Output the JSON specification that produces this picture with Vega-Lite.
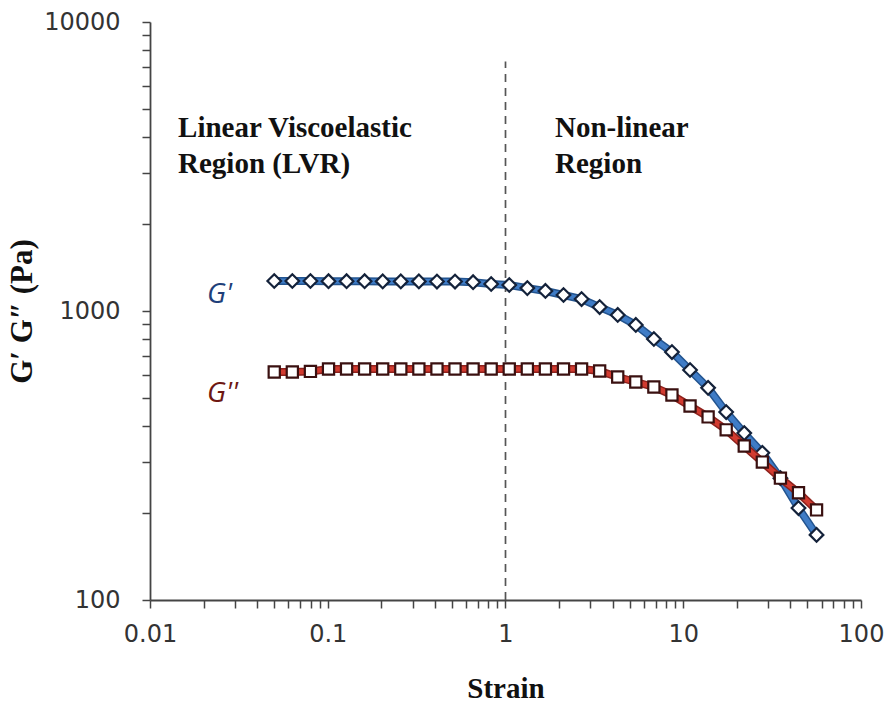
{
  "$schema": "https://vega.github.io/schema/vega-lite/v6.json",
  "width": 711,
  "height": 578,
  "autosize": {"type": "none"},
  "padding": {"left": 150, "top": 22, "right": 28, "bottom": 102},
  "background": "white",
  "config": {"view": {"stroke": null}},
  "datasets": {
    "moduli": [
      {"series": "G'", "strain": 0.05, "modulus": 1270},
      {"series": "G'", "strain": 0.0632, "modulus": 1270},
      {"series": "G'", "strain": 0.0799, "modulus": 1270},
      {"series": "G'", "strain": 0.101, "modulus": 1268},
      {"series": "G'", "strain": 0.1276, "modulus": 1268},
      {"series": "G'", "strain": 0.1612, "modulus": 1268},
      {"series": "G'", "strain": 0.2038, "modulus": 1266},
      {"series": "G'", "strain": 0.2576, "modulus": 1266},
      {"series": "G'", "strain": 0.3256, "modulus": 1266},
      {"series": "G'", "strain": 0.4115, "modulus": 1264},
      {"series": "G'", "strain": 0.52, "modulus": 1264},
      {"series": "G'", "strain": 0.6572, "modulus": 1258},
      {"series": "G'", "strain": 0.8306, "modulus": 1240},
      {"series": "G'", "strain": 1.05, "modulus": 1230},
      {"series": "G'", "strain": 1.327, "modulus": 1200},
      {"series": "G'", "strain": 1.677, "modulus": 1173},
      {"series": "G'", "strain": 2.12, "modulus": 1136},
      {"series": "G'", "strain": 2.679, "modulus": 1100},
      {"series": "G'", "strain": 3.386, "modulus": 1032},
      {"series": "G'", "strain": 4.279, "modulus": 969},
      {"series": "G'", "strain": 5.408, "modulus": 895},
      {"series": "G'", "strain": 6.834, "modulus": 800},
      {"series": "G'", "strain": 8.638, "modulus": 721},
      {"series": "G'", "strain": 10.92, "modulus": 625},
      {"series": "G'", "strain": 13.8, "modulus": 542},
      {"series": "G'", "strain": 17.44, "modulus": 447},
      {"series": "G'", "strain": 22.04, "modulus": 378},
      {"series": "G'", "strain": 27.86, "modulus": 323},
      {"series": "G'", "strain": 35.21, "modulus": 264},
      {"series": "G'", "strain": 44.5, "modulus": 208},
      {"series": "G'", "strain": 56.23, "modulus": 168},
      {"series": "G''", "strain": 0.05, "modulus": 615},
      {"series": "G''", "strain": 0.0632, "modulus": 615},
      {"series": "G''", "strain": 0.0799, "modulus": 618},
      {"series": "G''", "strain": 0.101, "modulus": 630},
      {"series": "G''", "strain": 0.1276, "modulus": 630},
      {"series": "G''", "strain": 0.1612, "modulus": 630},
      {"series": "G''", "strain": 0.2038, "modulus": 630},
      {"series": "G''", "strain": 0.2576, "modulus": 630},
      {"series": "G''", "strain": 0.3256, "modulus": 630},
      {"series": "G''", "strain": 0.4115, "modulus": 630},
      {"series": "G''", "strain": 0.52, "modulus": 630},
      {"series": "G''", "strain": 0.6572, "modulus": 630},
      {"series": "G''", "strain": 0.8306, "modulus": 630},
      {"series": "G''", "strain": 1.05, "modulus": 630},
      {"series": "G''", "strain": 1.327, "modulus": 630},
      {"series": "G''", "strain": 1.677, "modulus": 630},
      {"series": "G''", "strain": 2.12, "modulus": 630},
      {"series": "G''", "strain": 2.679, "modulus": 630},
      {"series": "G''", "strain": 3.386, "modulus": 620},
      {"series": "G''", "strain": 4.279, "modulus": 591},
      {"series": "G''", "strain": 5.408, "modulus": 568},
      {"series": "G''", "strain": 6.834, "modulus": 546},
      {"series": "G''", "strain": 8.638, "modulus": 512},
      {"series": "G''", "strain": 10.92, "modulus": 469},
      {"series": "G''", "strain": 13.8, "modulus": 430},
      {"series": "G''", "strain": 17.44, "modulus": 388},
      {"series": "G''", "strain": 22.04, "modulus": 341},
      {"series": "G''", "strain": 27.86, "modulus": 300},
      {"series": "G''", "strain": 35.21, "modulus": 264},
      {"series": "G''", "strain": 44.5, "modulus": 235},
      {"series": "G''", "strain": 56.23, "modulus": 205}
    ],
    "divider": [{"strain": 1, "modulus": 100, "modulus_top": 7300}],
    "regions": [
      {"label": "Linear Viscoelastic", "strain": 0.01438, "modulus": 4000},
      {"label": "Region (LVR)", "strain": 0.01438, "modulus": 3003},
      {"label": "Non-linear", "strain": 1.899, "modulus": 4000},
      {"label": "Region", "strain": 1.899, "modulus": 3003}
    ],
    "gp": [{"label": "G'", "strain": 0.02094, "modulus": 1066}],
    "gpp": [{"label": "G''", "strain": 0.02094, "modulus": 485}]
  },
  "encoding": {
    "x": {
      "field": "strain",
      "type": "quantitative",
      "scale": {"type": "log", "domain": [0.01, 100], "nice": false},
      "axis": {
        "values": [0.01, 0.02, 0.03, 0.04, 0.05, 0.06, 0.07, 0.08, 0.09, 0.1, 0.2, 0.3, 0.4, 0.5, 0.6, 0.7, 0.8, 0.9, 1, 2, 3, 4, 5, 6, 7, 8, 9, 10, 20, 30, 40, 50, 60, 70, 80, 90, 100],
        "format": "~g",
        "labelExpr": "indexof([0.01, 0.1, 1, 10, 100], datum.value) >= 0 ? datum.label : ''",
        "labelFont": "DejaVu Sans",
        "labelFontSize": 24,
        "labelColor": "#333333",
        "labelPadding": 14,
        "labelFlush": false,
        "labelOverlap": false,
        "grid": false,
        "tickSize": 8,
        "tickColor": "#444444",
        "tickWidth": 1.5,
        "domainColor": "#444444",
        "domainWidth": 1.8,
        "title": "Strain",
        "titleFont": "Liberation Serif",
        "titleFontSize": 29,
        "titleFontWeight": "bold",
        "titleColor": "#111111",
        "titlePadding": 28,
        "encode": {
          "ticks": {
            "update": {
              "y": {"signal": "indexof([0.01, 0.1, 1, 10, 100], datum.value) >= 0 ? -5 : -6"},
              "y2": {"signal": "indexof([0.01, 0.1, 1, 10, 100], datum.value) >= 0 ? 8 : 0"}
            }
          }
        }
      }
    },
    "y": {
      "field": "modulus",
      "type": "quantitative",
      "scale": {"type": "log", "domain": [100, 10000], "nice": false},
      "axis": {
        "values": [100, 200, 300, 400, 500, 600, 700, 800, 900, 1000, 2000, 3000, 4000, 5000, 6000, 7000, 8000, 9000, 10000],
        "format": "~g",
        "labelExpr": "indexof([100, 1000, 10000], datum.value) >= 0 ? datum.label : ''",
        "labelFont": "DejaVu Sans",
        "labelFontSize": 24,
        "labelColor": "#333333",
        "labelPadding": 22,
        "labelFlush": false,
        "labelOverlap": false,
        "grid": false,
        "tickSize": 8,
        "tickColor": "#444444",
        "tickWidth": 1.5,
        "domainColor": "#444444",
        "domainWidth": 1.8,
        "title": "G′ G″ (Pa)",
        "titleFont": "Liberation Serif",
        "titleFontSize": 31,
        "titleFontWeight": "bold",
        "titleColor": "#111111",
        "titlePadding": 5,
        "encode": {
          "ticks": {
            "update": {
              "x": {"signal": "indexof([100, 1000, 10000], datum.value) >= 0 ? 7 : 0"},
              "x2": {"signal": "indexof([100, 1000, 10000], datum.value) >= 0 ? -8 : 7"}
            }
          }
        }
      }
    }
  },
  "layer": [
    {
      "data": {"name": "divider"},
      "mark": {"type": "rule", "color": "#555555", "strokeWidth": 1.7, "strokeDash": [8, 6]},
      "encoding": {"y2": {"field": "modulus_top"}}
    },
    {
      "data": {"name": "moduli"},
      "transform": [{"filter": "datum.series === \"G'\""}],
      "mark": {"type": "line", "color": "#23548F", "strokeWidth": 8},
      "encoding": {}
    },
    {
      "data": {"name": "moduli"},
      "transform": [{"filter": "datum.series === \"G'\""}],
      "mark": {"type": "line", "color": "#3F7CC6", "strokeWidth": 5},
      "encoding": {}
    },
    {
      "data": {"name": "moduli"},
      "transform": [{"filter": "datum.series === \"G'\""}],
      "mark": {"type": "point", "shape": "diamond", "filled": true, "fill": "white", "stroke": "#14223a", "strokeWidth": 2.2, "size": 185, "opacity": 1}
    },
    {
      "data": {"name": "moduli"},
      "transform": [{"filter": "datum.series === \"G''\""}],
      "mark": {"type": "line", "color": "#8E221D", "strokeWidth": 8},
      "encoding": {}
    },
    {
      "data": {"name": "moduli"},
      "transform": [{"filter": "datum.series === \"G''\""}],
      "mark": {"type": "line", "color": "#D23B30", "strokeWidth": 5},
      "encoding": {}
    },
    {
      "data": {"name": "moduli"},
      "transform": [{"filter": "datum.series === \"G''\""}],
      "mark": {"type": "point", "shape": "square", "filled": true, "fill": "white", "stroke": "#3a1010", "strokeWidth": 2.2, "size": 125, "opacity": 1}
    },
    {
      "data": {"name": "regions"},
      "mark": {"type": "text", "align": "left", "baseline": "alphabetic", "font": "Liberation Serif", "fontWeight": "bold", "fontSize": 29, "color": "#111111"},
      "encoding": {"text": {"field": "label"}}
    },
    {
      "data": {"name": "gp"},
      "mark": {"type": "text", "align": "left", "baseline": "alphabetic", "font": "Open Sans", "fontStyle": "italic", "fontSize": 28, "color": "#1F3F7A"},
      "encoding": {"text": {"field": "label"}}
    },
    {
      "data": {"name": "gpp"},
      "mark": {"type": "text", "align": "left", "baseline": "alphabetic", "font": "Open Sans", "fontStyle": "italic", "fontSize": 28, "color": "#6E1712"},
      "encoding": {"text": {"field": "label"}}
    }
  ]
}
